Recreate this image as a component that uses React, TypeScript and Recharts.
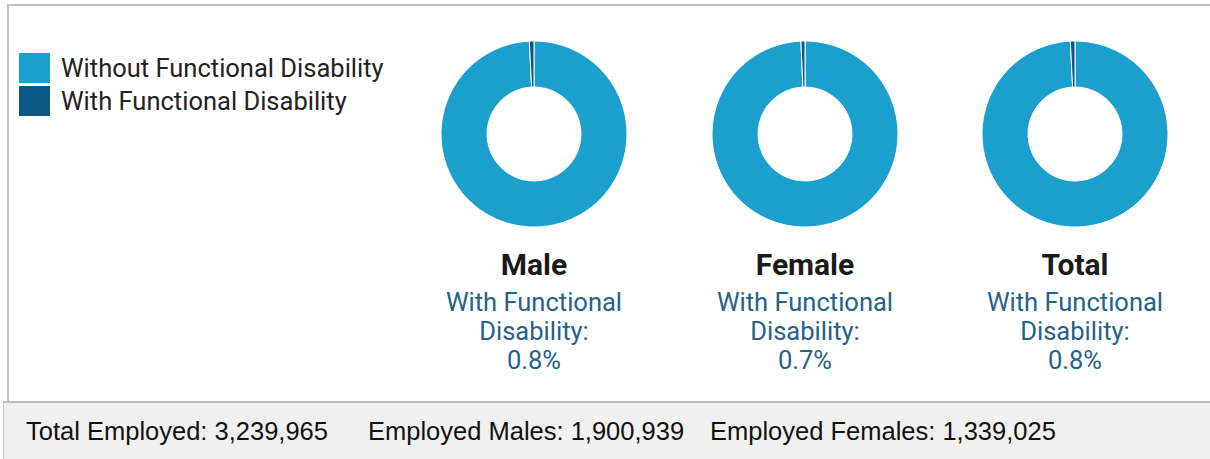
import React from "react";
import { PieChart, Pie, Cell } from "recharts";

const seriesNames = ["Without Functional Disability", "With Functional Disability"];
const seriesColors = ["#1ba0cd", "#0b5783"];
const groups = ["Male", "Female", "Total"];
const withPct = [0.8, 0.7, 0.8];
const withoutPct = [99.2, 99.3, 99.2];
const groupCx = [534, 805, 1075];
const footerItems = [
  "Total Employed: 3,239,965",
  "Employed Males: 1,900,939",
  "Employed Females: 1,339,025",
];
const footerX = [26, 368, 710];

const W = 1210;
const H = 459;
const CY = 134;

export default function App() {
  return (
    <div
      style={{
        position: "fixed",
        left: 0,
        top: 0,
        width: W,
        height: H,
        background: "#fff",
        overflow: "hidden",
      }}
    >
      <div
        style={{
          position: "absolute",
          left: 7,
          top: 4,
          width: W - 7,
          height: 398,
          borderTop: "2px solid #c0c0c0",
          borderLeft: "2px solid #c0c0c0",
          boxSizing: "border-box",
        }}
      />
      <div style={{ position: "absolute", left: 0, top: 0 }}>
        <PieChart width={W} height={400} margin={{ top: 0, right: 0, bottom: 0, left: 0 }}>
          {groups.map((g, gi) => {
            const data = [
              { name: seriesNames[0], value: withoutPct[gi] },
              { name: seriesNames[1], value: withPct[gi] },
            ];
            return (
              <Pie
                key={g}
                data={data}
                dataKey="value"
                nameKey="name"
                cx={groupCx[gi]}
                cy={CY}
                innerRadius={47}
                outerRadius={93}
                startAngle={90}
                endAngle={-270}
                stroke="#ffffff"
                strokeWidth={1}
                isAnimationActive={false}
              >
                {data.map((d, i) => (
                  <Cell key={d.name} fill={seriesColors[i]} />
                ))}
              </Pie>
            );
          })}
        </PieChart>
      </div>
      <div style={{ position: "absolute", left: 19, top: 51, fontFamily: "Roboto, sans-serif" }}>
        {seriesNames.map((n, i) => (
          <div key={n} style={{ display: "flex", alignItems: "center", height: 33.5 }}>
            <div style={{ width: 31, height: 30, background: seriesColors[i], marginRight: 11 }} />
            <span style={{ fontSize: 25.5, color: "#222", lineHeight: "30px" }}>{n}</span>
          </div>
        ))}
      </div>
      {groups.map((g, gi) => (
        <div
          key={g}
          style={{
            position: "absolute",
            left: groupCx[gi] - 130,
            top: 247,
            width: 260,
            textAlign: "center",
            fontFamily: "Roboto, sans-serif",
          }}
        >
          <div style={{ fontSize: 30, fontWeight: 700, color: "#1a1a1a", lineHeight: "36px" }}>{g}</div>
        </div>
      ))}
      {groups.map((g, gi) => (
        <div
          key={g + "-sub"}
          style={{
            position: "absolute",
            left: groupCx[gi] - 130,
            top: 288,
            width: 260,
            textAlign: "center",
            fontFamily: "Roboto, sans-serif",
            fontSize: 25.5,
            color: "#23628a",
            lineHeight: "29px",
          }}
        >
          With Functional
          <br />
          Disability:
          <br />
          {withPct[gi].toFixed(1)}%
        </div>
      ))}
      <div
        style={{
          position: "absolute",
          left: 3,
          top: 401,
          width: W - 3,
          height: H - 401,
          background: "#f0f0f0",
          borderTop: "2px solid #bdbdbd",
          borderLeft: "1px solid #c8c8c8",
          boxSizing: "border-box",
        }}
      />
      {footerItems.map((t, i) => (
        <div
          key={t}
          style={{
            position: "absolute",
            left: footerX[i],
            top: 416,
            fontFamily: "'Liberation Sans', sans-serif",
            fontSize: 25.5,
            lineHeight: "30px",
            color: "#111",
            whiteSpace: "pre",
          }}
        >
          {t}
        </div>
      ))}
    </div>
  );
}
